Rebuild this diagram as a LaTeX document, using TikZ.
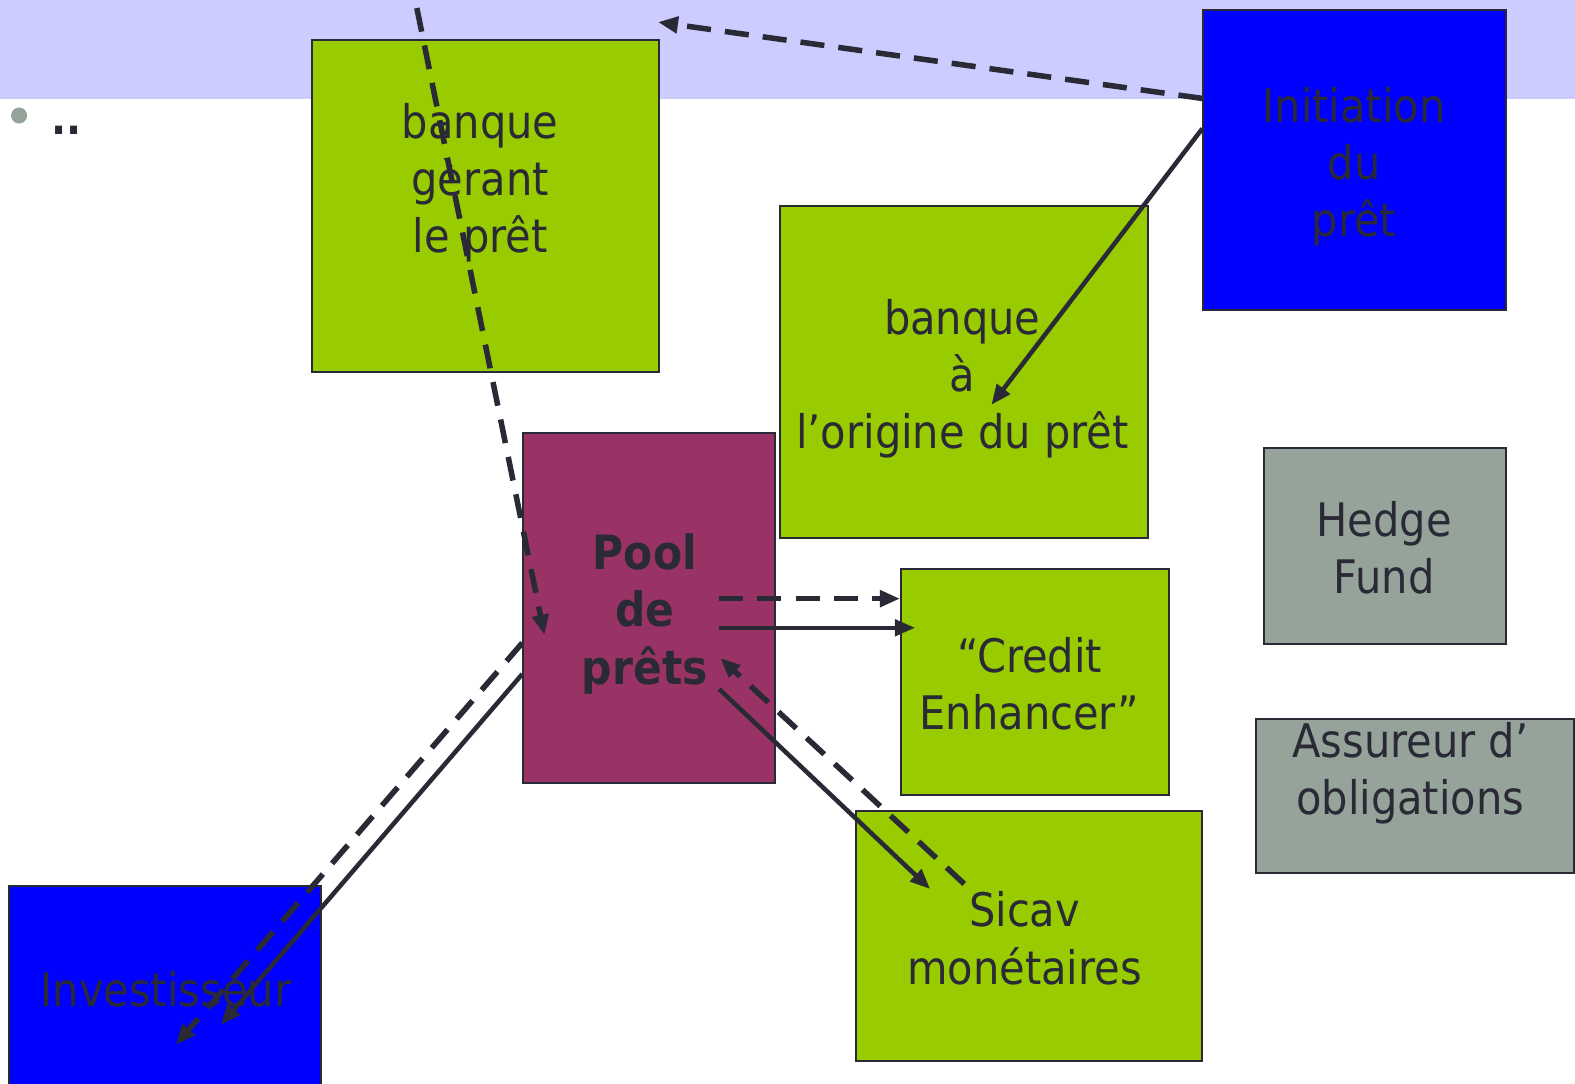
\documentclass[tikz,border=0pt]{standalone}
\usepackage{fontspec}
\setmainfont{DejaVu Sans Condensed}
\usetikzlibrary{arrows.meta}
\definecolor{band}{HTML}{CCCCFF}
\definecolor{lime}{HTML}{99CC00}
\definecolor{pblue}{HTML}{0000FF}
\definecolor{maroon}{HTML}{993366}
\definecolor{sage}{HTML}{95A39A}
\definecolor{ink}{HTML}{2A2A36}
\tikzset{
  box/.style={draw=ink, line width=2pt, inner sep=0pt, anchor=north west},
  lbl/.style={text=ink, font=\fontsize{46}{57}\selectfont, align=center, inner sep=0pt},
  blbl/.style={lbl, font=\fontsize{47}{57}\selectfont\bfseries},
  conn/.style={draw=ink, line width=4.5pt, -{Triangle[length=20pt, width=16pt]}},
  dconn/.style={conn, line width=5.5pt, dash pattern=on 24pt off 14pt},
}
\begin{document}
\begin{tikzpicture}[x=1pt,y=-1pt]
\useasboundingbox (0,0) rectangle (1568,1079);
% band
\fill[band] (0,0) rectangle (1568,99);
% bullet
\node[circle, fill=sage, minimum size=16pt, inner sep=0pt] (bul) at (19,115) {};
\node[text=ink, font=\fontsize{44}{44}\selectfont\bfseries, inner sep=0pt] (dots) at (66,130) {..};
% boxes
\node[box, fill=lime, minimum width=345pt, minimum height=330pt] (gerant) at (310,39) {};
\node[box, fill=pblue, minimum width=301pt, minimum height=299pt] (init) at (1197,9) {};
\node[box, fill=lime, minimum width=366pt, minimum height=331pt] (orig) at (776,204) {};
\node[box, fill=sage, minimum width=241pt, minimum height=195pt] (hedge) at (1257,445) {};
\node[box, fill=sage, minimum width=317pt, minimum height=153pt] (assur) at (1249,715) {};
\node[box, fill=maroon, minimum width=251pt, minimum height=349pt] (pool) at (520,430) {};
\node[box, fill=lime, minimum width=267pt, minimum height=225pt] (credit) at (896,565) {};
\node[box, fill=lime, minimum width=345pt, minimum height=249pt] (sicav) at (851,806) {};
\node[box, fill=pblue, minimum width=311pt, minimum height=210pt] (inv) at (8,881) {};
% texts
\node[lbl] (tgerant) at (478,182) {banque\\gèrant\\ le prêt};
\node[lbl] (tinit) at (1348,166) {Initiation\\du\\prêt};
\node[lbl] (torig) at (958,377) {banque\\à\\l’origine du prêt};
\node[lbl] (thedge) at (1378,545) {Hedge\\Fund};
\node[lbl] (tassur) at (1404,770) {Assureur d’\\obligations};
\node[blbl] (tpool) at (642,611) {Pool\\de\\prêts};
\node[lbl] (tcredit) at (1025,681) {“Credit\\Enhancer”};
\node[lbl] (tsicav) at (1020,934) {Sicav\\monétaires};
\node[lbl] (tinv) at (165,985) {Investisseur};
% connector end points
\coordinate (a1s) at (415,8);
\coordinate (a1e) at (542,632);
\coordinate (a2s) at (1197,98);
\coordinate (a2e) at (655,22);
\coordinate (a3s) at (1197,128);
\coordinate (a3e) at (987,403);
\coordinate (a4s) at (716,596);
\coordinate (a4e) at (896,596);
\coordinate (a5s) at (716,625);
\coordinate (a5e) at (911,625);
\coordinate (a6s) at (716,686);
\coordinate (a6e) at (926,885);
\coordinate (a7s) at (960,880);
\coordinate (a7e) at (717,655);
\coordinate (a8s) at (520,640);
\coordinate (a8e) at (175,1040);
\coordinate (a9s) at (520,671);
\coordinate (a9e) at (220,1020);
% connectors
\draw[dconn] (a1s) -- (a1e);
\draw[dconn] (a2s) -- (a2e);
\draw[conn] (a3s) -- (a3e);
\draw[dconn] (a4s) -- (a4e);
\draw[conn] (a5s) -- (a5e);
\draw[conn] (a6s) -- (a6e);
\draw[dconn] (a7s) -- (a7e);
\draw[dconn] (a8s) -- (a8e);
\draw[conn] (a9s) -- (a9e);
\end{tikzpicture}
\end{document}
